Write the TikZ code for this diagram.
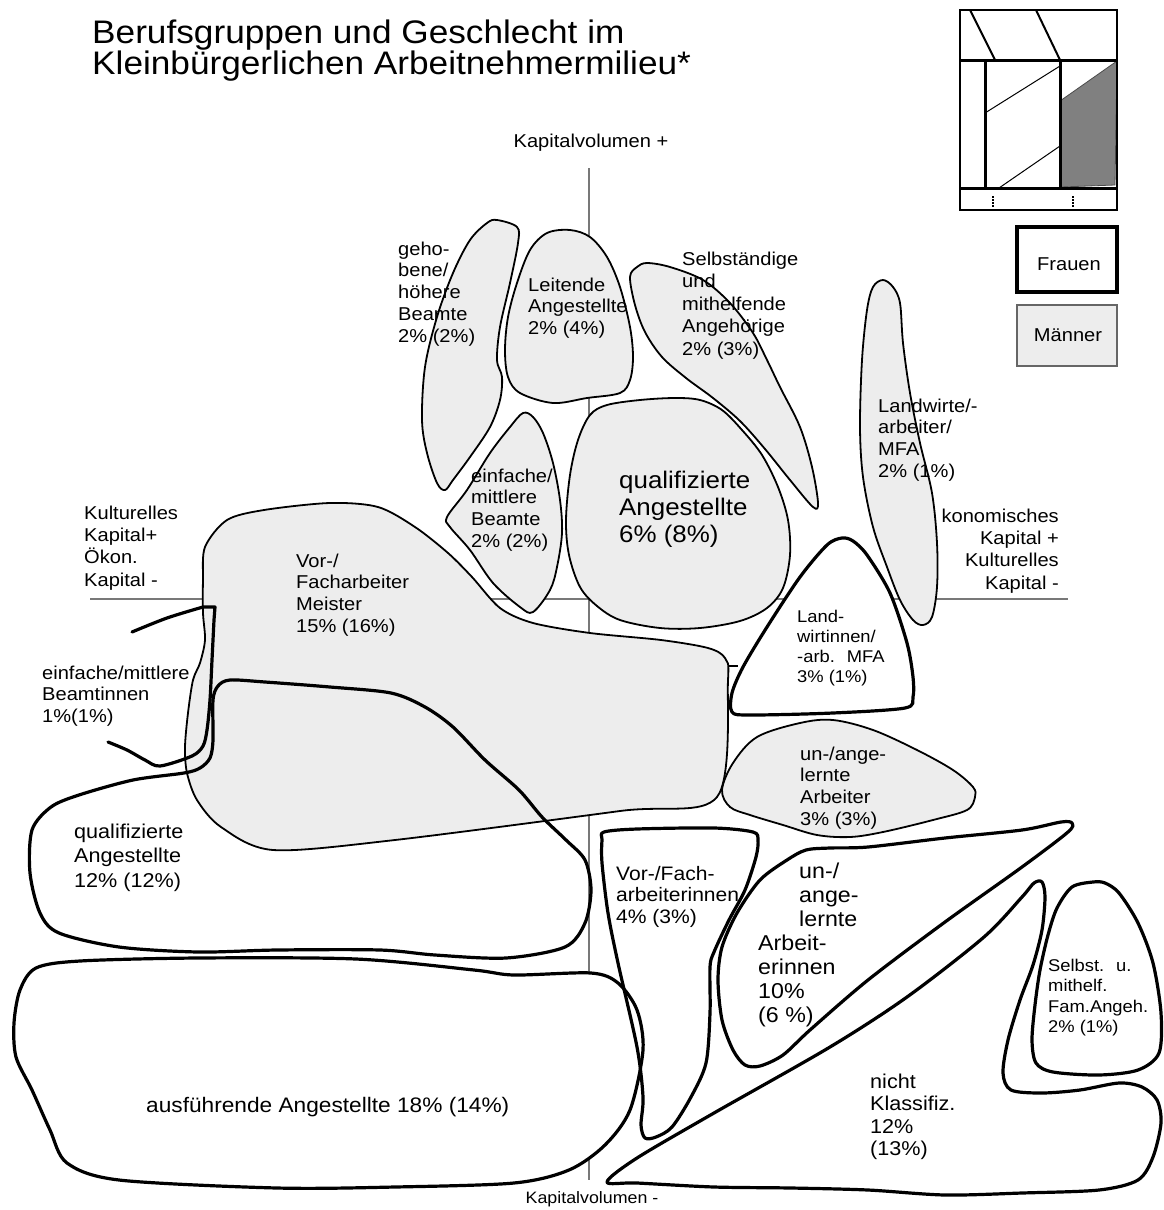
\documentclass[tikz,border=0pt]{standalone}
\usepackage{fontspec}
\setmainfont{Liberation Sans}[FakeStretch=1.08]
\definecolor{mfill}{RGB}{237,237,237}
\definecolor{axisgray}{RGB}{120,120,120}
\newcommand\st{\rule{0pt}{0.78em}}
\begin{document}
\begin{tikzpicture}[x=1pt,y=-1pt,
  men/.style={draw=black, line width=1.8pt, fill=mfill, line join=round},
  women/.style={draw=black, line width=3.2pt, line join=round, line cap=round},
  axis/.style={draw=axisgray, line width=1.3pt},
  lab/.style={anchor=north west, inner sep=0pt, align=left},
  fA/.style={font=\fontsize{18.6}{21.7}\selectfont, yshift=14.5pt},
  fAx/.style={font=\fontsize{18.6}{22.3}\selectfont, yshift=14.5pt},
  fSe/.style={font=\fontsize{18.6}{22.5}\selectfont, yshift=14.5pt},
  fQsix/.style={font=\fontsize{24}{27}\selectfont, yshift=18.7pt},
  fQtw/.style={font=\fontsize{20}{24.5}\selectfont, yshift=15.6pt},
  fAu/.style={font=\fontsize{21}{25}\selectfont, yshift=16.4pt},
  fVF/.style={font=\fontsize{19.5}{21.5}\selectfont, yshift=15.2pt},
  fUA/.style={font=\fontsize{21.5}{24}\selectfont, yshift=16.8pt},
  fS/.style={font=\fontsize{17}{20.5}\selectfont, yshift=13.3pt},
  fNK/.style={font=\fontsize{20}{22.5}\selectfont, yshift=15.6pt},
  fLw/.style={font=\fontsize{17}{20}\selectfont, yshift=13.3pt},
  fKm/.style={font=\fontsize{16.5}{19}\selectfont, yshift=12.9pt},
  fT/.style={font=\fontsize{32.6}{29}\selectfont, yshift=25.4pt}]
\useasboundingbox[fill=white] (0,0) rectangle (1164,1210);

% axes
\draw[axis] (589,168) -- (589,1180);
\draw[axis] (90,599) -- (1068,599);
\coordinate (tk1) at (728,666);
\coordinate (tk2) at (738,666);
\draw[line width=1.2pt] (tk1) -- (tk2);

% Maenner shapes
\draw[men] plot[smooth cycle, tension=0.55] coordinates {(497,220)(517,227)(518,243)(510,283)(500,327)(497,360)(502,377)(500,400)(490,427)(470,457)(453,480)(445,490)(437,483)(427,453)(422,420)(425,367)(437,317)(453,273)(470,240)(487,223)};
\draw[men] plot[smooth cycle, tension=0.55] coordinates {(570,230)(590,237)(607,257)(620,287)(630,327)(633,357)(630,380)(620,393)(587,398)(553,403)(520,393)(508,377)(505,350)(508,317)(517,283)(530,250)(547,233)};
\draw[men] plot[smooth cycle, tension=0.55] coordinates {(630,277)(637,267)(647,263)(670,267)(703,280)(730,303)(753,333)(767,360)(780,387)(800,427)(812,467)(818,503)(813,507)(790,480)(765,449)(740,421)(713,398)(686,378)(662,357)(645,332)(635,305)};
\draw[men] plot[smooth cycle, tension=0.55] coordinates {(675,398)(700,400)(722,410)(742,430)(762,455)(778,487)(788,520)(790,555)(783,588)(767,608)(740,621)(700,628)(660,628)(620,620)(597,606)(580,587)(569,555)(566,520)(570,475)(578,440)(590,415)(607,405)(640,400)};
\draw[men] plot[smooth cycle, tension=0.55] coordinates {(883,280)(893,287)(900,303)(903,343)(910,393)(920,443)(932,493)(937,543)(937,587)(932,617)(923,625)(913,620)(900,600)(887,567)(873,527)(863,477)(860,427)(862,360)(867,310)(873,287)};
\draw[men] plot[smooth cycle, tension=0.55] coordinates {(447,517)(450,527)(470,550)(493,583)(520,607)(533,612)(550,590)(557,567)(562,533)(560,500)(553,463)(543,433)(533,417)(523,413)(510,427)(490,453)(467,490)};
\draw[men] plot[smooth cycle, tension=0.5] coordinates {(205,547)(227,520)(264,510)(330,503)(378,507)(415,527)(448,553)(472,577)(500,608)(533,623)(590,633)(661,640)(708,648)(725,658)(728,680)(717,797)(620,811)(395,840)(273,850)(221,827)(197,800)(187,773)(185,747)(188,713)(193,680)(200,663)(205,640)(203,613)(203,580)};
\draw[men] plot[smooth cycle, tension=0.55] coordinates {(722,790)(733,763)(757,737)(800,723)(833,720)(873,730)(917,750)(953,770)(973,787)(975,797)(967,810)(933,820)(883,832)(850,837)(817,835)(783,825)(750,815)(730,807)};

% Frauen shapes
\draw[women, fill=white] plot[smooth cycle, tension=0.5] coordinates {(36,968)(20,990)(14,1023)(16,1057)(32,1090)(50,1130)(67,1163)(119,1180)(277,1188)(395,1187)(514,1183)(569,1170)(605,1145)(630,1110)(643,1050)(637,1010)(618,983)(591,973)(514,975)(474,970)(356,959)(198,958)(80,961)};
\draw[women] plot[smooth cycle, tension=0.5] coordinates {(230,680)(265,682)(330,687)(391,693)(425,707)(453,727)(485,760)(519,790)(542,817)(566,840)(585,860)(591,890)(585,923)(565,947)(506,958)(435,955)(380,950)(277,950)(198,952)(119,947)(59,933)(40,913)(30,873)(32,830)(51,807)(79,795)(133,780)(184,773)(200,768)(210,758)(213,740)(213,700)(218,686)};
\draw[women] plot[smooth, tension=0.5] coordinates {(132,632)(167,618)(203,607)} -- (215,607) -- plot[smooth, tension=0.5] coordinates {(214,620)(212,660)(210,700)(207,730)(203,746)(192,756)(160,766)(145,760)(127,750)(108,742)};
\draw[women, fill=white] plot[smooth cycle, tension=0.5] coordinates {(842,538)(853,541)(867,555)(890,593)(907,643)(913,677)(913,697)(905,708)(833,713)(750,715)(732,712)(732,693)(743,667)(767,627)(800,577)(827,545)};
\draw[women] plot[smooth cycle, tension=0.5] coordinates {(604,832)(637,829)(714,828)(753,832)(758,840)(756,857)(745,890)(729,920)(714,952)(710,967)(710,1013)(706,1063)(691,1097)(672,1127)(656,1137)(645,1138)(641,1125)(643,1097)(637,1047)(618,963)(608,913)(602,863)(602,840)};
\draw[women] plot[smooth cycle, tension=0.5] coordinates {(787,860)(806,850)(830,848)(868,847)(945,838)(1022,830)(1061,822)(1072,823)(1068,832)(1022,867)(945,922)(868,980)(810,1030)(783,1055)(760,1066)(745,1065)(733,1050)(722,1020)(718,980)(722,947)(737,913)(760,880)};
\draw[women] plot[smooth cycle, tension=0.5] coordinates {(607,1182)(637,1158)(714,1113)(830,1047)(907,997)(984,937)(1022,897)(1034,883)(1042,882)(1045,897)(1042,930)(1033,965)(1020,1000)(1008,1040)(1003,1073)(1011,1090)(1042,1093)(1080,1090)(1119,1083)(1142,1087)(1157,1100)(1161,1123)(1153,1157)(1138,1180)(1099,1190)(1022,1193)(945,1195)(868,1190)(791,1188)(714,1187)(637,1183)};
\draw[women] plot[smooth cycle, tension=0.5] coordinates {(1093,882)(1072,887)(1057,908)(1048,935)(1040,970)(1035,1005)(1032,1040)(1036,1063)(1053,1072)(1099,1075)(1138,1070)(1159,1053)(1161,1013)(1153,963)(1138,923)(1119,893)(1105,883)};

% legend icon
\fill[black!50] (1060,101) -- (1117,61) -- (1115,185) -- (1061,187) -- cycle;
\draw[line width=0.8pt, black!70] (1060,101) -- (1117,61) -- (1115,185) -- (1061,187) -- cycle;
\draw[line width=1pt] (985,113) -- (1060,66);
\draw[line width=1pt] (999,188) -- (1060,146);
\draw[line width=2pt] (970,10) -- (995,60);
\draw[line width=2pt] (1036,10) -- (1060,60);
\draw[line width=3pt] (960,60) -- (1117,60);
\draw[line width=3pt] (960,188) -- (1117,188);
\draw[line width=3pt] (985,60) -- (985,188);
\draw[line width=3pt] (1060,60) -- (1060,188);
\draw[line width=2.5pt] (960,10) rectangle (1117,210);
\draw[line width=1.5pt, dash pattern=on 1.5pt off 1.5pt] (993,196) -- (993,208);
\draw[line width=1.5pt, dash pattern=on 1.5pt off 1.5pt] (1073,196) -- (1073,208);

% legend boxes
\draw[line width=4.5pt] (1017,227) rectangle (1117,292);
\draw[line width=1.5pt, draw=black!60, fill=mfill] (1017,305) rectangle (1117,366);
\node[anchor=north, inner sep=0pt, fA] (lFrauen) at (1069,270) {\st Frauen};
\node[anchor=north, inner sep=0pt, fA] (lMaenner) at (1068,341) {\st Männer};

% title
\node[lab, fT] (title) at (92,43) {\st Berufsgruppen und Geschlecht im\\Kleinbürgerlichen Arbeitnehmermilieu*};

% axis labels
\node[anchor=north, inner sep=0pt, fA] (kvPlus) at (591,147) {\st Kapitalvolumen +};
\node[anchor=north, inner sep=0pt, fKm] (kvMinus) at (592,1203) {\st Kapitalvolumen -};
\node[lab, fAx] (axL) at (84,519) {\st Kulturelles\\Kapital+\\Ökon.\\Kapital -};
\node[anchor=north east, inner sep=0pt, align=right, fAx] (axR) at (1059,522) {\st konomisches\\Kapital +\\Kulturelles\\Kapital -};

% group labels
\node[lab, fA] (lGeho) at (398,255) {\st geho-\\bene/\\höhere\\Beamte\\2\% (2\%)};
\node[lab, fA] (lLeit) at (528,291) {\st Leitende\\Angestellte\\2\% (4\%)};
\node[lab, fSe] (lSelb) at (682,265) {\st Selbständige\\und\\mithelfende\\Angehörige\\2\% (3\%)};
\node[lab, fA] (lEinf) at (471,482) {\st einfache/\\mittlere\\Beamte\\2\% (2\%)};
\node[lab, fQsix] (lQualSix) at (619,488) {\st qualifizierte\\Angestellte\\6\% (8\%)};
\node[lab, fA] (lLand) at (878,412) {\st Landwirte/-\\arbeiter/\\MFA\\2\% (1\%)};
\node[lab, fA] (lVor) at (296,567) {\st Vor-/\\Facharbeiter\\Meister\\15\% (16\%)};
\node[lab, fA] (lBeamtinnen) at (42,679) {\st einfache/mittlere\\Beamtinnen\\1\%(1\%)};
\node[lab, fLw] (lLandin) at (797,622) {\st Land-\\wirtinnen/\\-arb.~ MFA\\3\% (1\%)};
\node[lab, fA] (lUnA) at (800,760) {\st un-/ange-\\lernte\\Arbeiter\\3\% (3\%)};
\node[lab, fQtw] (lQualTw) at (74,838) {\st qualifizierte\\Angestellte\\12\% (12\%)};
\node[lab, fAu] (lAusf) at (146,1112) {\st ausführende Angestellte 18\% (14\%)};
\node[lab, fVF] (lVFin) at (616,880) {\st Vor-/Fach-\\arbeiterinnen\\4\% (3\%)};
\node[lab, fUA] (lUAinA) at (799,878) {\st un-/\\ange-\\lernte};
\node[lab, fUA] (lUAinB) at (758,950) {\st Arbeit-\\erinnen\\10\%\\(6 \%)};
\node[lab, fS] (lSelbst) at (1048,971) {\st Selbst.~ u.\\mithelf.\\Fam.Angeh.\\2\% (1\%)};
\node[lab, fNK] (lNK) at (870,1088) {\st nicht\\Klassifiz.\\12\%\\(13\%)};
\end{tikzpicture}
\end{document}
